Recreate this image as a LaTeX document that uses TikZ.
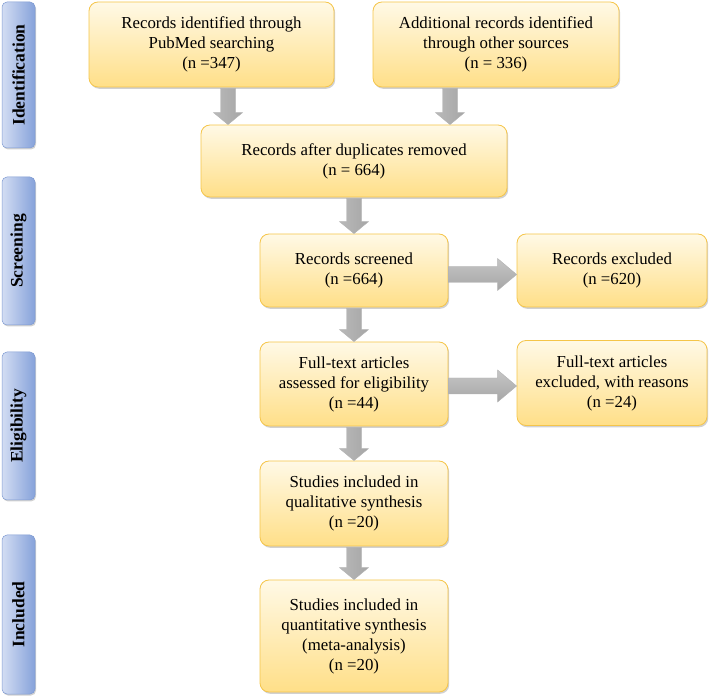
\documentclass[tikz,border=0pt]{standalone}
\usepackage{fontspec}
\setmainfont{Liberation Serif}
\usetikzlibrary{calc,shadows}
\definecolor{boxtop}{HTML}{FFF9E6}
\definecolor{boxbot}{HTML}{FFDF88}
\definecolor{boxline}{HTML}{F5C54A}
\definecolor{barleft}{HTML}{D3DDF3}
\definecolor{barright}{HTML}{86A2DA}
\definecolor{barline}{HTML}{7E9AD2}
\newcommand\dnarr[2]{%
  \path[arrowv] let \p1=#1, \p2=#2 in
    (\x1-7.5pt,\y1) -- (\x1+7.5pt,\y1) -- (\x1+7.5pt,\y2+12pt) -- (\x1+14.5pt,\y2+12pt)
    -- (\x1,\y2) -- (\x1-14.5pt,\y2+12pt) -- (\x1-7.5pt,\y2+12pt) -- cycle;}
\newcommand\rtarr[2]{%
  \path[arrowh] let \p1=#1, \p2=#2 in
    (\x1,\y1+8pt) -- (\x2-19pt,\y1+8pt) -- (\x2-19pt,\y1+16pt) -- (\x2,\y1)
    -- (\x2-19pt,\y1-16pt) -- (\x2-19pt,\y1-8pt) -- (\x1,\y1-8pt) -- cycle;}
\begin{document}
\begin{tikzpicture}[x=1pt,y=1pt,
  box/.style={draw=boxline, line width=0.8pt, rounded corners=9pt,
    top color=boxtop, bottom color=boxbot, align=center, inner sep=2pt,
    font=\fontsize{16.8}{20}\selectfont,
    drop shadow={shadow xshift=1.2pt, shadow yshift=-1.8pt, opacity=0.3, fill=black!60}},
  sidebar/.style={draw=barline, line width=0.5pt, rounded corners=5pt,
    left color=barleft, right color=barright, minimum width=33pt, inner sep=0pt,
    font=\fontsize{17.5}{20}\selectfont\bfseries,
    drop shadow={shadow xshift=1pt, shadow yshift=-1.5pt, opacity=0.3, fill=black!60}},
  arrowv/.style={draw=gray!60, line width=0.4pt, left color=gray!55, middle color=gray!22, right color=gray!70},
  arrowh/.style={draw=gray!60, line width=0.4pt, top color=gray!45, middle color=gray!22, bottom color=gray!70}]
\useasboundingbox (0,0) rectangle (709,696);
% sidebars
\node[sidebar, minimum height=146pt] (s1) at (18.5,621) {\rotatebox{90}{Identification}};
\node[sidebar, minimum height=148pt] (s2) at (18.5,445) {\rotatebox{90}{Screening}};
\node[sidebar, minimum height=148pt] (s3) at (18.5,270) {\rotatebox{90}{Eligibility}};
\node[sidebar, minimum height=159pt] (s4) at (18.5,81.5) {\rotatebox{90}{Included}};
% boxes
\node[box, minimum width=245pt, minimum height=85pt] (b1) at (211.5,651.5)
  {Records identified through\\PubMed searching\\(n =347)};
\node[box, minimum width=246pt, minimum height=85pt] (b2) at (496,651.5)
  {Additional records identified\\through other sources\\(n = 336)};
\node[box, minimum width=306pt, minimum height=72pt] (b3) at (354,535)
  {Records after duplicates removed\\(n = 664)};
\node[box, minimum width=188pt, minimum height=73pt] (b4) at (354,425.5)
  {Records screened\\(n =664)};
\node[box, minimum width=190pt, minimum height=73pt] (b5) at (612,425.5)
  {Records excluded\\(n =620)};
\node[box, minimum width=188pt, minimum height=84pt] (b6) at (354,312)
  {Full-text articles\\assessed for eligibility\\(n =44)};
\node[box, minimum width=190pt, minimum height=85pt] (b7) at (612,313)
  {Full-text articles\\excluded, with reasons\\(n =24)};
\node[box, minimum width=188pt, minimum height=85pt] (b8) at (354,192.5)
  {Studies included in\\qualitative synthesis\\(n =20)};
\node[box, minimum width=188pt, minimum height=112pt] (b9) at (354,60)
  {Studies included in\\quantitative synthesis\\(meta-analysis)\\(n =20)};
% arrows
\dnarr{([xshift=16.5pt,yshift=-1pt]b1.south)}{(b3.north)}
\dnarr{([xshift=-46pt,yshift=-1pt]b2.south)}{(b3.north)}
\dnarr{([yshift=-1pt]b3.south)}{(b4.north)}
\dnarr{([yshift=-1pt]b4.south)}{(b6.north)}
\dnarr{([yshift=-1pt]b6.south)}{(b8.north)}
\dnarr{([yshift=-1pt]b8.south)}{(b9.north)}
\rtarr{([yshift=-4pt]b4.east)}{(b5.west)}
\rtarr{([yshift=-2pt]b6.east)}{(b7.west)}
\end{tikzpicture}
\end{document}
